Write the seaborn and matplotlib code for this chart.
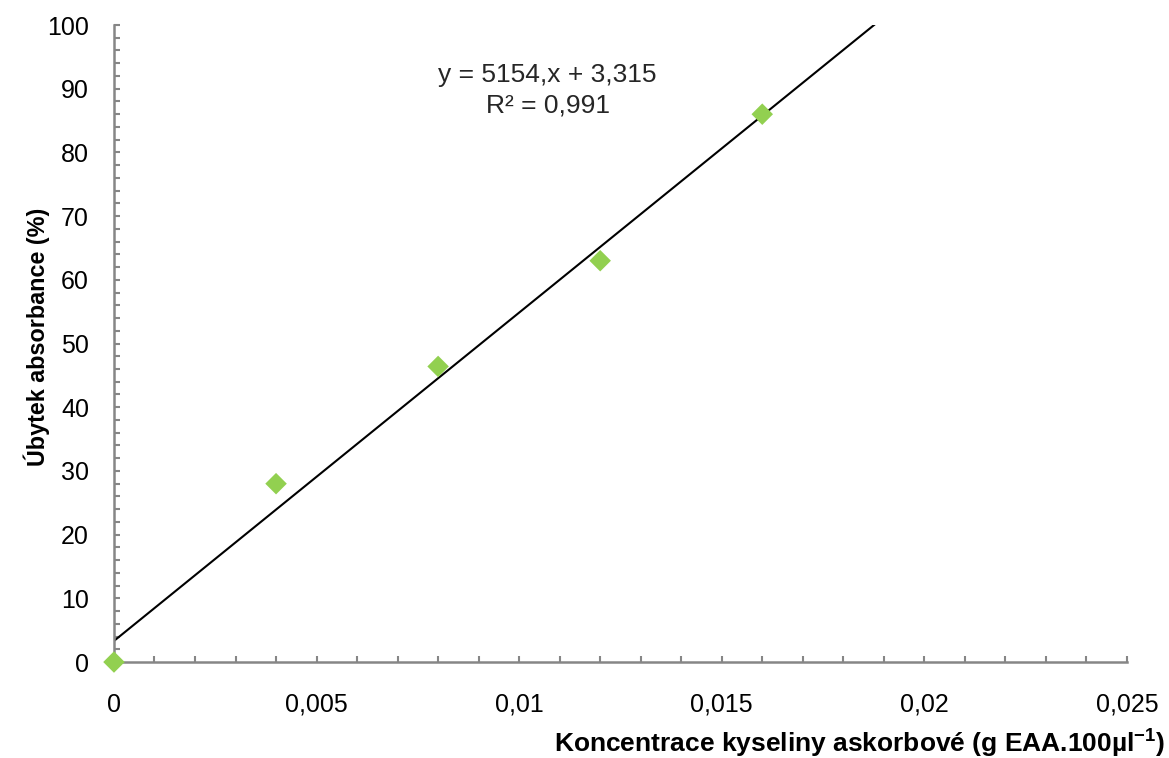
import numpy as np
import pandas as pd
import matplotlib
matplotlib.use("Agg")
import matplotlib.pyplot as plt
from matplotlib.ticker import MultipleLocator, FuncFormatter
import seaborn as sns

# Calibration data: ascorbic acid concentration vs. absorbance decrease
concentration = [0.0, 0.004, 0.008, 0.012, 0.016]
absorbance_drop = [0.0, 28.0, 46.4, 63.0, 86.0]

# Linear trendline parameters
slope = 5154.0
intercept = 3.315
r_squared = 0.991

x_ticks = [0, 0.005, 0.01, 0.015, 0.02, 0.025]
y_ticks = [0, 10, 20, 30, 40, 50, 60, 70, 80, 90, 100]

sns.set_theme(style="white")
plt.rcParams["font.family"] = ["Liberation Sans", "DejaVu Sans"]
plt.rcParams["mathtext.fontset"] = "custom"
plt.rcParams["mathtext.rm"] = "Liberation Sans"
plt.rcParams["mathtext.bf"] = "Liberation Sans:bold"

df = pd.DataFrame({"x": concentration, "y": absorbance_drop})

fig = plt.figure(figsize=(11.69, 7.58), dpi=100)
ax = fig.add_axes([0.0975, 0.1266, 0.8665, 0.8404])

# Trendline from the fitted equation
xl = np.array([0.0, 0.025])
ax.plot(xl, slope * xl + intercept, color="black", lw=1.5, zorder=2)

sns.scatterplot(data=df, x="x", y="y", ax=ax, marker="D", s=120,
                color="#92D050", edgecolor="none", zorder=3, clip_on=False)

ax.set_xlim(0, 0.025)
ax.set_ylim(0, 100)
ax.set_xticks(x_ticks)
ax.set_yticks(y_ticks)
ax.xaxis.set_minor_locator(MultipleLocator(0.001))
ax.yaxis.set_minor_locator(MultipleLocator(2))


def comma_fmt(v, pos):
    s = f"{v:.3f}".rstrip("0").rstrip(".")
    return s.replace(".", ",")


ax.xaxis.set_major_formatter(FuncFormatter(comma_fmt))
ax.yaxis.set_major_formatter(FuncFormatter(lambda v, p: f"{v:.0f}"))

for side in ["top", "right"]:
    ax.spines[side].set_visible(False)
for side in ["left", "bottom"]:
    ax.spines[side].set_color("#868686")
    ax.spines[side].set_linewidth(1.8)

ax.tick_params(axis="both", which="both", direction="in", color="#868686",
               width=1.5, length=4.5, labelsize=18, labelcolor="black",
               bottom=True, left=True)
ax.tick_params(axis="x", which="major", pad=22)
ax.tick_params(axis="y", which="major", pad=18)

ax.set_xlabel(r"Koncentrace kyseliny askorbové (g EAA.100µl$^{\mathbf{-1}}$)",
              fontsize=19, fontweight="bold", color="black",
              ha="right", va="center")
ax.xaxis.set_label_coords(1.0375, -0.127)
ax.set_ylabel("Úbytek absorbance (%)", fontsize=16.8, fontweight="bold",
              color="black", va="center")
ax.yaxis.set_label_coords(-0.076, 0.51)

ax.text(0.428, 0.9215, f"y = {slope:.0f},x + " + f"{intercept:.3f}".replace(".", ","),
        transform=ax.transAxes, ha="center", va="center", fontsize=19)
ax.text(0.428, 0.8744, f"R² = {r_squared:.3f}".replace(".", ","),
        transform=ax.transAxes, ha="center", va="center", fontsize=19)

fig.savefig("out.png", dpi=100, facecolor="white")
